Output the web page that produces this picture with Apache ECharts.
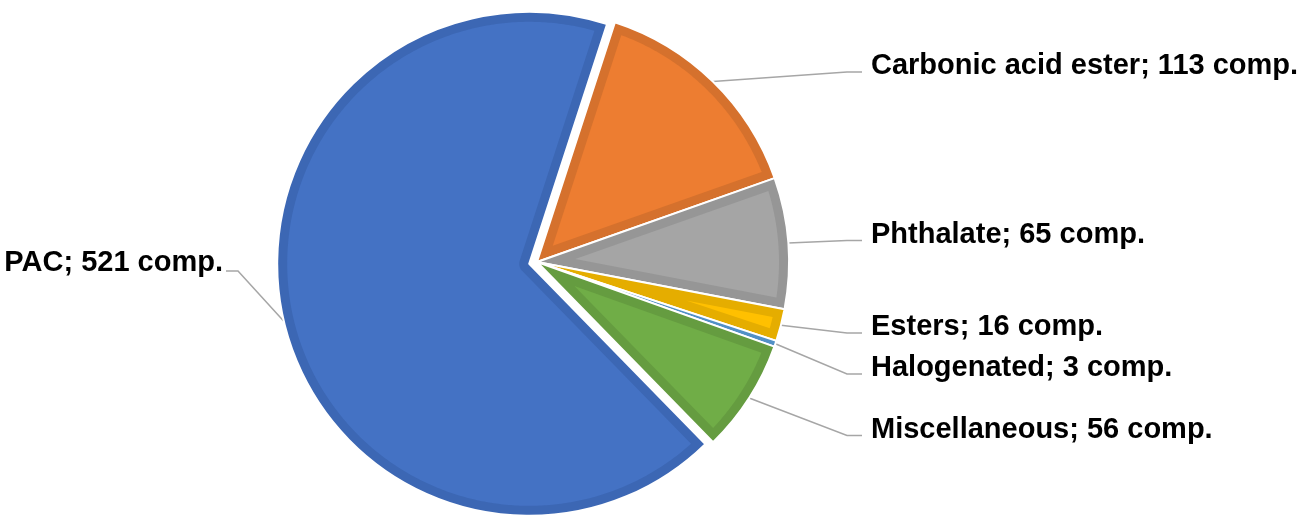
<!DOCTYPE html>
<html>
<head>
<meta charset="utf-8">
<script src="https://cdn.jsdelivr.net/npm/echarts@6/dist/echarts.min.js"></script>
<style>
html,body{margin:0;padding:0;background:#ffffff;}
#chart{width:1310px;height:515px;}
</style>
</head>
<body>
<div id="chart"></div>
<script>
// ---- data ----
const categories = ['Carbonic acid ester', 'Phthalate', 'Esters', 'Halogenated', 'Miscellaneous', 'PAC'];
const compounds = [113, 65, 16, 3, 56, 521];
const unitLabel = 'comp.';

// ---- styles / layout ----
const fillColors = ['#ED7D31', '#A5A5A5', '#FFC000', '#5B9BD5', '#70AD47', '#4472C4'];
const edgeColors = ['#D5712D', '#969696', '#E5AD00', '#5290C6', '#659C40', '#3C67B4'];
const explodedIndex = 5;
const CX = 537, CY = 262, R = 252, BAND = 10, EXPLODE = 8, START_FROM_TOP = 18;
const labelY = [66, 234.5, 327, 368, 429.5, 263];
const rightLabelX = 871, leftLabelX = 223;
const FONT = 'Liberation Sans, Arial, Helvetica, sans-serif';
const FONT_SIZE = 29;

const total = compounds.reduce((a, b) => a + b, 0);

function sliceAngles(i) {
  let acc = 0;
  for (let k = 0; k < i; k++) acc += compounds[k];
  const t1 = (START_FROM_TOP + acc / total * 360) * Math.PI / 180;
  const t2 = (START_FROM_TOP + (acc + compounds[i]) / total * 360) * Math.PI / 180;
  return [t1, t2];
}
function sliceCenter(i) {
  if (i !== explodedIndex) return [CX, CY];
  const a = sliceAngles(i);
  const tm = (a[0] + a[1]) / 2;
  return [CX + Math.sin(tm) * EXPLODE, CY - Math.cos(tm) * EXPLODE];
}

const chart = echarts.init(document.getElementById('chart'), null, {renderer: 'canvas'});

// onlyExploded: series holding the exploded slice; otherwise series holding the rest
function pieDataFor(onlyExploded) {
  return categories.map((n, i) => {
    const visible = (i === explodedIndex) === onlyExploded;
    return {
      name: n,
      value: compounds[i],
      itemStyle: visible
        ? {color: edgeColors[i], borderColor: '#ffffff', borderWidth: 2}
        : {color: 'rgba(0,0,0,0)', borderWidth: 0},
      label: {show: visible},
      labelLine: {show: visible}
    };
  });
}

function labelLayoutFn(p) {
  const i = p.dataIndex;
  const right = i !== explodedIndex;
  const x = right ? rightLabelX : leftLabelX;
  const y = labelY[i];
  const ly = y + (right ? 6 : 8);
  const res = {x: x, y: y, align: right ? 'left' : 'right', verticalAlign: 'middle'};
  if (p.labelLinePoints && p.labelLinePoints.length) {
    const s = p.labelLinePoints[0];
    res.labelLinePoints = [
      [s[0], s[1]],
      right ? [x - 24, ly] : [x + 15, ly],
      right ? [x - 9, ly] : [x + 3, ly]
    ];
  }
  return res;
}

function pieSeries(onlyExploded) {
  return {
    type: 'pie',
    center: sliceCenter(onlyExploded ? explodedIndex : 0),
    radius: R,
    startAngle: 90 - START_FROM_TOP,
    clockwise: true,
    avoidLabelOverlap: false,
    silent: true,
    emphasis: {disabled: true},
    data: pieDataFor(onlyExploded),
    label: {
      position: 'outside',
      formatter: p => p.name + '; ' + p.value + ' ' + unitLabel,
      fontFamily: FONT,
      fontWeight: 'bold',
      fontSize: FONT_SIZE,
      color: '#000000'
    },
    labelLine: {
      length: 20,
      length2: 10,
      lineStyle: {color: '#A6A6A6', width: 1.5}
    },
    labelLayout: labelLayoutFn
  };
}

function insetShape(params) {
  const i = params.dataIndex;
  const a = sliceAngles(i);
  const t1 = a[0], t2 = a[1];
  const c = sliceCenter(i);
  const cx = c[0], cy = c[1];
  const P = (t, r) => [cx + Math.sin(t) * r, cy - Math.cos(t) * r];
  const alpha = t2 - t1;
  const d = BAND;
  const Ri = R - BAND;
  if (alpha < Math.PI && d / Math.sin(alpha / 2) >= Ri - 2) return null;
  const phi1 = t1 + Math.asin(d / Ri), phi2 = t2 - Math.asin(d / Ri);
  const pts = [];
  const N = Math.max(4, Math.ceil((phi2 - phi1) / 0.01));
  for (let k = 0; k <= N; k++) pts.push(P(phi1 + (phi2 - phi1) * k / N, Ri));
  if (alpha < Math.PI) {
    pts.push(P((t1 + t2) / 2, d / Math.sin(alpha / 2)));
  } else {
    const a0 = t2 - Math.PI / 2, a1 = t1 + Math.PI / 2;
    for (let k = 0; k <= 12; k++) pts.push(P(a0 + (a1 - a0) * k / 12, d));
  }
  return {type: 'polygon', shape: {points: pts}, style: {fill: fillColors[i]}};
}

const option = {
  animation: false,
  backgroundColor: '#ffffff',
  series: [
    pieSeries(false),
    pieSeries(true),
    {
      type: 'custom',
      coordinateSystem: 'none',
      silent: true,
      z: 3,
      data: compounds.map(v => [v]),
      renderItem: insetShape
    }
  ]
};
chart.setOption(option);
</script>
</body>
</html>
